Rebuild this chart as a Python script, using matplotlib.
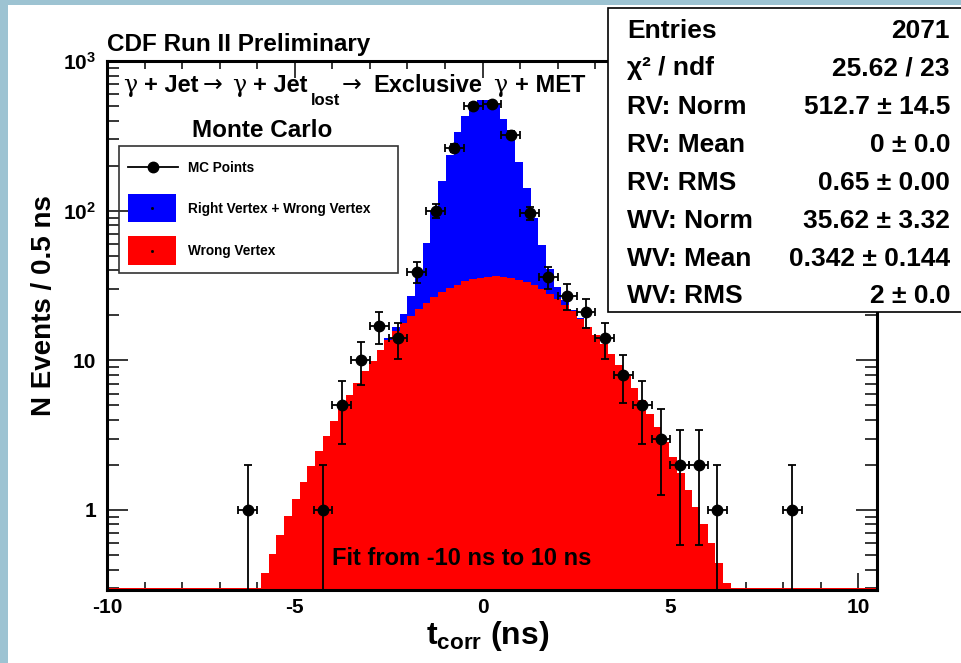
import numpy as np
import matplotlib
matplotlib.use("Agg")
import matplotlib.pyplot as plt
from matplotlib.patches import Rectangle
from matplotlib.lines import Line2D
from matplotlib.ticker import MultipleLocator, LogLocator, NullFormatter

# fitted curves are drawn by ROOT as 100 flat steps over this range
curve_range = (-10.0, 10.5)

# "Wrong Vertex" curve, one value per step
wrong_vertex = [
    0, 0, 0, 0, 0, 0, 0, 0, 0, 0,
    0, 0, 0, 0, 0, 0, 0.10, 0.15, 0.20, 0.28,
    0.38, 0.51, 0.68, 0.91, 1.18, 1.53, 1.97, 2.49, 3.13, 3.91,
    4.80, 5.88, 7.03, 8.47, 9.92, 11.7, 13.6, 15.6, 17.7, 19.9,
    22.0, 24.1, 26.3, 28.5, 30.4, 32.1, 33.7, 34.7, 35.7, 36.2,
    36.4, 36.2, 35.6, 34.6, 33.2, 31.7, 29.8, 27.8, 25.7, 23.5,
    21.2, 19.0, 16.8, 14.8, 12.8, 11.0, 9.36, 7.87, 6.56, 5.41,
    4.41, 3.56, 2.85, 2.25, 1.76, 1.37, 1.05, 0.80, 0.60, 0.445,
    0.327, 0.24, 0.17, 0.12, 0, 0, 0, 0, 0, 0,
    0, 0, 0, 0, 0, 0, 0, 0, 0, 0,
]

# "Right Vertex + Wrong Vertex" curve
right_plus_wrong = [
    0, 0, 0, 0, 0, 0, 0, 0, 0, 0,
    0, 0, 0, 0, 0, 0, 0.10, 0.15, 0.20, 0.28,
    0.38, 0.51, 0.68, 0.91, 1.18, 1.53, 1.97, 2.49, 3.13, 3.91,
    4.80, 5.88, 7.03, 8.47, 9.92, 11.7, 14.1, 16.6, 20.4, 27.0,
    39.0, 61.0, 99.0, 157, 237, 333, 430, 520, 548, 545,
    505, 410, 300, 212, 142, 90.0, 59.0, 41.0, 31.0, 25.2,
    21.8, 19.2, 16.8, 14.8, 12.8, 11.0, 9.36, 7.87, 6.56, 5.41,
    4.41, 3.56, 2.85, 2.25, 1.76, 1.37, 1.05, 0.80, 0.60, 0.445,
    0.327, 0.24, 0.17, 0.12, 0, 0, 0, 0, 0, 0,
    0, 0, 0, 0, 0, 0, 0, 0, 0, 0,
]

# MC points: bin centres (0.5 ns bins) and counts
mc_t = [-6.25, -4.25, -3.75, -3.25, -2.75, -2.25, -1.75, -1.25, -0.75, -0.25,
        0.25, 0.75, 1.25, 1.75, 2.25, 2.75, 3.25, 3.75, 4.25, 4.75,
        5.25, 5.75, 6.25, 8.25]
mc_n = [1, 1, 5, 10, 17, 14, 39, 100, 262, 500,
        518, 322, 96, 36, 27, 21, 14, 8, 5, 3,
        2, 2, 1, 1]
bin_half_width = 0.25

stats_names = ["Entries", "χ² / ndf", "RV: Norm", "RV: Mean", "RV: RMS",
               "WV: Norm", "WV: Mean", "WV: RMS"]
stats_values = ["2071", "25.62 / 23", "512.7 ± 14.5", "0 ± 0.0", "0.65 ± 0.00",
                "35.62 ± 3.32", "0.342 ± 0.144", "2 ± 0.0"]

x_ticks = [-10, -5, 0, 5, 10]
y_ticks = [1, 10, 100, 1000]
y_ticklabels = ["1", "10", r"$\mathbf{10^{2}}$", r"$\mathbf{10^{3}}$"]
y_range = (0.292, 1000)

plt.rcParams["font.family"] = ["Liberation Sans", "DejaVu Sans"]
plt.rcParams["font.weight"] = "bold"
plt.rcParams["axes.unicode_minus"] = False
plt.rcParams["mathtext.fontset"] = "custom"
plt.rcParams["mathtext.rm"] = "Liberation Sans:bold"
plt.rcParams["mathtext.bf"] = "Liberation Sans:bold"
plt.rcParams["mathtext.it"] = "Liberation Sans:italic"

W, H = 961, 663
def px(x, y):
    # pixel position in the picture -> figure fraction
    return x / W, 1 - y / H

fig = plt.figure(figsize=(W / 100, H / 100), dpi=100)
fig.patch.set_facecolor("#9dc3d2")
fig.add_artist(Rectangle(px(8, 663), 1, (663 - 5) / H, transform=fig.transFigure,
                         facecolor="white", edgecolor="none", zorder=-1))

ax = fig.add_axes([107 / W, 1 - 590 / H, 770 / W, 529 / H])
ax.set_yscale("log")
ax.set_xlim(*curve_range)
ax.set_ylim(*y_range)

# curves as filled steps, values below the axis squashed onto the floor (ROOT style)
edges = np.linspace(curve_range[0], curve_range[1], len(wrong_vertex) + 1)
floor = y_range[0] * 1.035
blue = np.maximum(np.array(right_plus_wrong, float), floor)
red = np.maximum(np.array(wrong_vertex, float), floor)
ax.fill_between(edges, y_range[0] * 0.5, np.append(blue, blue[-1]), step="post",
                color="#0000ff", lw=0, zorder=1)
ax.fill_between(edges, y_range[0] * 0.5, np.append(red, red[-1]), step="post",
                color="#ff0000", lw=0, zorder=2)

mc_n_arr = np.array(mc_n, float)
ax.errorbar(mc_t, mc_n, yerr=np.sqrt(mc_n_arr), xerr=bin_half_width, fmt="o",
            color="black", ms=7.5, elinewidth=1.3, capsize=3, capthick=1.3, zorder=4)

ax.set_xticks(x_ticks)
ax.xaxis.set_minor_locator(MultipleLocator(1))
ax.set_yticks(y_ticks, y_ticklabels)
ax.yaxis.set_minor_locator(LogLocator(base=10, subs=np.arange(2, 10)))
ax.yaxis.set_minor_formatter(NullFormatter())
ax.tick_params(which="both", direction="in", top=True, right=True, width=1.1,
               labelsize=15)
ax.tick_params(axis="x", which="major", length=12, pad=6)
ax.tick_params(axis="x", which="minor", length=6)
ax.tick_params(axis="y", which="major", length=15, pad=8)
ax.tick_params(axis="y", which="minor", length=8.5)
for s in ax.spines.values():
    s.set_linewidth(2.2)

# titles
fig.text(*px(107, 51), "CDF Run II Preliminary", fontsize=17.5, va="baseline")

# process line, pieces placed one by one (Symbol-like gamma and thin arrows)
greek = dict(family="DejaVu Serif", fontweight="normal", fontsize=17)
arrow = dict(family="DejaVu Sans", fontweight="normal", fontsize=17)
plain = dict(fontsize=17)
pieces = [
    (123, 92, "γ", greek), (144, 92, "+ Jet", plain), (203, 92, "→", arrow),
    (232, 92, "γ", greek), (253, 92, "+ Jet", plain), (311, 105, "lost", dict(fontsize=12)),
    (342, 92, "→", arrow), (373, 92, "Exclusive", plain), (493, 92, "γ", greek),
    (515, 92, "+ MET", plain),
]
for xx, yy, s, kw in pieces:
    fig.text(*px(xx, yy), s, va="baseline", **kw)

fig.text(*px(262, 137), "Monte Carlo", fontsize=17.5, ha="center", va="baseline")
fig.text(*px(332, 565), "Fit from -10 ns to 10 ns", fontsize=17, va="baseline")
fig.text(*px(44, 306), "N Events / 0.5 ns", fontsize=20, rotation=90,
         ha="center", va="center")
fig.text(*px(488, 644), r"$\mathbf{t}_{\mathbf{corr}}$ (ns)", fontsize=23,
         ha="center", va="baseline")

# legend drawn by hand
fig.add_artist(Rectangle(px(119, 273), 279 / W, 127 / H, transform=fig.transFigure,
                         fill=False, edgecolor="#333333", lw=1.2))
lx0, ly0 = px(128, 167)
lx1, _ = px(178, 167)
fig.add_artist(Line2D([lx0, lx1], [ly0, ly0], color="black", lw=1.3,
                      transform=fig.transFigure))
fig.add_artist(Line2D([(lx0 + lx1) / 2], [ly0], color="black", marker="o", ms=7.5,
                      transform=fig.transFigure))
fig.add_artist(Rectangle(px(128, 222), 48 / W, 28 / H, transform=fig.transFigure,
                         facecolor="#0000ff", edgecolor="none"))
fig.add_artist(Rectangle(px(128, 265), 48 / W, 29 / H, transform=fig.transFigure,
                         facecolor="#ff0000", edgecolor="none"))
for yy in (208, 251):
    fig.add_artist(Line2D([px(152, yy)[0]], [px(152, yy)[1]], color="black",
                          marker="s", ms=1, transform=fig.transFigure))
fig.text(*px(188, 172), "MC Points", fontsize=9.8, va="baseline")
fig.text(*px(188, 213), "Right Vertex + Wrong Vertex", fontsize=9.8, va="baseline")
fig.text(*px(188, 255), "Wrong Vertex", fontsize=9.8, va="baseline")

# fit statistics box
fig.add_artist(Rectangle(px(608, 312), 370 / W, 304 / H, transform=fig.transFigure,
                         facecolor="white", edgecolor="black", lw=1.2, zorder=5))
for i, (name, val) in enumerate(zip(stats_names, stats_values)):
    yb = 37.5 + 38.0 * i
    fig.text(*px(627, yb), name, fontsize=19, va="baseline", zorder=6)
    fig.text(*px(950, yb), val, fontsize=19, va="baseline", ha="right", zorder=6)

fig.savefig("out.png", dpi=100, facecolor=fig.get_facecolor())
